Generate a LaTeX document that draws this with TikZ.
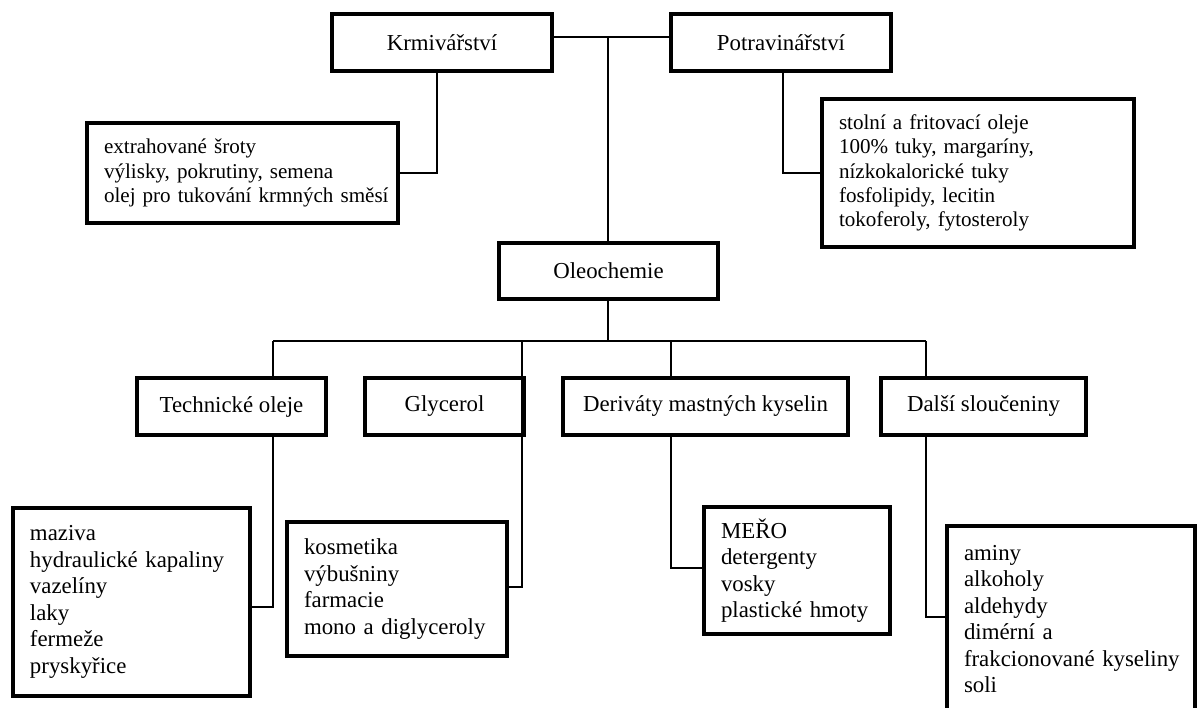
\documentclass[tikz,border=0pt]{standalone}
\usepackage{fontspec}
\setmainfont{Liberation Serif}
\newdimen\pxu \pxu=0.02cm
\tikzset{
  ttl/.style={draw, line width=1.8pt, inner sep=0pt, minimum height=57\pxu,
    font=\fontsize{13}{15.1}\selectfont},
  lsta/.style={draw, line width=1.8pt, inner xsep=17\pxu, inner ysep=0pt, align=left,
    font=\fontsize{12}{13.9}\selectfont},
  lstb/.style={draw, line width=1.8pt, inner xsep=17\pxu, inner ysep=0pt, align=left,
    font=\fontsize{13}{15.1}\selectfont},
  conn/.style={line width=1pt}
}
\begin{document}
\begin{tikzpicture}[x=0.02cm,y=-0.02cm]
\useasboundingbox (0,0) rectangle (1197,707);
% coordinates for trunks
\coordinate (top) at (608,37);
\coordinate (bus) at (608,341);
\coordinate (bl) at (273,341);
\coordinate (bg) at (522,341);
\coordinate (bd) at (671,341);
\coordinate (br) at (926,341);
% titles
\node[ttl, minimum width=220\pxu] (krm) at (442,42.5) {Krmivářství};
\node[ttl, minimum width=220\pxu] (pot) at (781,42.5) {Potravinářství};
\node[ttl, minimum width=219\pxu, minimum height=56\pxu] (ole) at (608.5,271) {Oleochemie};
\node[ttl, minimum width=189\pxu] (tech) at (231.5,406.5) {Technické oleje};
\node[ttl, minimum width=159\pxu] (gly) at (444.5,406.5) {Glycerol};
\node[ttl, minimum width=285\pxu] (der) at (705.5,406.5) {Deriváty mastných kyselin};
\node[ttl, minimum width=205\pxu] (dal) at (983.5,406.5) {Další sloučeniny};
% lists
\node[lsta, text width=277\pxu, minimum height=100\pxu] (ext) at (242.5,173)
  {extrahované šroty\\výlisky, pokrutiny, semena\\\mbox{olej pro tukování krmných směsí}};
\node[lsta, text width=278\pxu, minimum height=148\pxu] (potl) at (978,173)
  {stolní a fritovací oleje\\100\% tuky, margaríny,\\nízkokalorické tuky\\fosfolipidy, lecitin\\tokoferoly, fytosteroly};
\node[lstb, text width=203\pxu, minimum height=188\pxu] (maz) at (131.5,602)
  {maziva\\\mbox{hydraulické kapaliny}\\vazelíny\\laky\\fermeže\\pryskyřice};
\node[lstb, text width=186\pxu, minimum height=134\pxu] (kos) at (397,589)
  {kosmetika\\výbušniny\\farmacie\\\mbox{mono a diglyceroly}};
\node[lstb, text width=152\pxu, minimum height=127\pxu] (mer) at (797,570.5)
  {MEŘO\\detergenty\\vosky\\\mbox{plastické hmoty}};
\node[lstb, text width=214\pxu, minimum height=186\pxu] (ami) at (1071,619)
  {aminy\\alkoholy\\aldehydy\\dimérní a\\\mbox{frakcionované kyseliny}\\soli};
% connectors
\draw[conn] (krm.east |- top) -- (pot.west |- top);
\draw[conn] (top) -- (top |- ole.north);
\draw[conn] ([xshift=-5\pxu]krm.south) |- (ext.east);
\draw[conn] ([xshift=2\pxu]pot.south) |- (potl.west);
\draw[conn] (bus |- ole.south) -- (bus);
\draw[conn] (bl) -- (br);
\draw[conn] (bl) -- (bl |- tech.north);
\draw[conn] (bl |- tech.south) |- ([yshift=-5\pxu]maz.east);
\draw[conn] (bg) |- ([yshift=2\pxu]kos.east);
\draw[conn] (bd) -- (bd |- der.north);
\draw[conn] (bd |- der.south) |- ([yshift=2.5\pxu]mer.west);
\draw[conn] (br) -- (br |- dal.north);
\draw[conn] (br |- dal.south) |- ([yshift=2\pxu]ami.west);
\end{tikzpicture}
\end{document}
